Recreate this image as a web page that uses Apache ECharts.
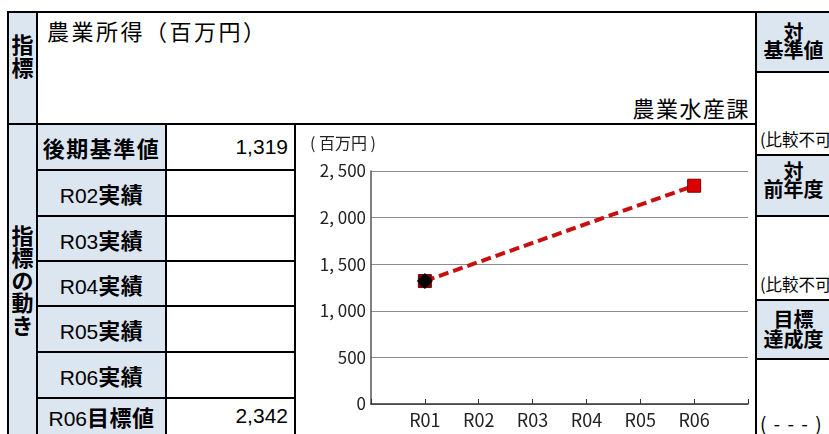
<!DOCTYPE html>
<html lang="ja">
<head>
<meta charset="utf-8">
<title>農業所得（百万円）</title>
<script src="https://cdn.jsdelivr.net/npm/echarts@6.0.0/dist/echarts.min.js"></script>
<style>
  html, body { margin: 0; padding: 0; background: #fff; }
  body { width: 829px; height: 434px; position: relative; overflow: hidden;
         font-family: "Noto Sans CJK JP", "Noto Sans", sans-serif; color: #000; }
  .fill { position: absolute; background: #dce6f1; }
  .ln { position: absolute; background: #000; }
  .txt { position: absolute; white-space: nowrap; }
  .head { font-weight: 700; text-align: center; }
  .lat { font-family: "Liberation Sans", Arial, sans-serif; font-weight: 400; font-size: 21px; }
  .cjkb { font-weight: 700; font-size: 22px; }
  #chart { position: absolute; left: 296px; top: 125px; width: 459px; height: 309px; }
</style>
</head>
<body>
<div id="sheet"></div>
<div id="chart"></div>
<script>
// ---- data ----
const categories = ['', 'R01', 'R02', 'R03', 'R04', 'R05', 'R06', ''];
const baseValue = 1319;      // 後期基準値
const targetValue = 2342;    // R06目標値
const baselineValues = [null, baseValue, null, null, null, null, null, null];
const targetValues = [null, baseValue, null, null, null, null, targetValue, null];
const yTickLabels = ['0', '500', '1, 000', '1, 500', '2, 000', '2, 500'];
const rowNames = [
  ['', '後期基準値'], ['R02', '実績'], ['R03', '実績'], ['R04', '実績'],
  ['R05', '実績'], ['R06', '実績'], ['R06', '目標値']
];
const rowValues = [baseValue, null, null, null, null, null, targetValue];

// ---- table frame ----
const sheet = document.getElementById('sheet');
function add(cls, x, y, w, h, html, style) {
  const d = document.createElement('div');
  d.className = cls;
  d.style.left = x + 'px'; d.style.top = y + 'px';
  if (w != null) d.style.width = w + 'px';
  if (h != null) d.style.height = h + 'px';
  if (html != null) d.innerHTML = html;
  if (style) Object.assign(d.style, style);
  sheet.appendChild(d);
  return d;
}

// header shading
add('fill', 8, 12, 29, 422);
add('fill', 37, 124, 129, 310);
add('fill', 756, 12, 73, 60);
add('fill', 756, 155, 73, 60);
add('fill', 756, 300, 73, 58);

// cell borders
add('ln', 7, 11, 822, 2);
add('ln', 7, 11, 2, 423);
add('ln', 36, 11, 2, 423);
add('ln', 7, 123, 749, 2);
add('ln', 165, 123, 2, 311);
add('ln', 294, 123, 2, 311);
add('ln', 755, 11, 2, 423);
const rowTops = [124, 170, 216, 261, 306, 352, 398];
rowTops.slice(1).forEach(y => add('ln', 36, y - 1, 259, 2));
[71, 154, 215, 299, 358].forEach(y => add('ln', 755, y, 74, 2));

// texts
add('txt head', 8, 32, 29, null, '指<br>標', { fontSize: '22px', lineHeight: '22.5px' });
add('txt head', 8, 223, 29, null, '指<br>標<br>の<br>動<br>き', { fontSize: '22px', lineHeight: '22.4px' });
add('txt', 47, 18, null, null, '農業所得（百万円）', { fontSize: '22px', lineHeight: '24px', letterSpacing: '2.5px' });
add('txt', 560, 95, 190, null, '農業水産課', { fontSize: '22px', lineHeight: '24px', letterSpacing: '1.5px', textAlign: 'right' });

add('txt head', 756, 23, 75, null, '対<br>基準値', { fontSize: '20px', lineHeight: '18px' });
add('txt', 760, 130, null, null, '(比較不可)', { fontSize: '16.5px', lineHeight: '18px' });
add('txt head', 756, 162, 75, null, '対<br>前年度', { fontSize: '20px', lineHeight: '18px' });
add('txt', 760, 275, null, null, '(比較不可)', { fontSize: '16.5px', lineHeight: '18px' });
add('txt head', 756, 309, 75, null, '目標<br>達成度', { fontSize: '20px', lineHeight: '19.5px' });
add('txt', 754, 412, 75, null, '( - - - )', { fontSize: '19px', lineHeight: '21px', textAlign: 'center', letterSpacing: '1.5px' });

rowNames.forEach((r, i) => {
  const top = rowTops[i];
  const h = i === rowNames.length - 1 ? 36 : 46;
  const inner = (r[0] ? '<span class="lat">' + r[0] + '</span>' : '') +
                '<span class="cjkb" style="letter-spacing:' + (r[0] ? '0.5px' : '1.5px') + '">' + r[1] + '</span>';
  add('txt', 37, top, 129, h, inner, { lineHeight: h + 'px', textAlign: 'center' });
  if (rowValues[i] != null) {
    add('txt lat', 167, top, 121, h, rowValues[i].toLocaleString('en-US'),
        { lineHeight: h + 'px', textAlign: 'right' });
  }
});

// ---- chart ----
const chart = echarts.init(document.getElementById('chart'), null, { renderer: 'canvas' });
const cjk = 'Noto Sans CJK JP';
chart.setOption({
  animation: false,
  title: {
    text: '( 百万円 )', left: 9, top: 5,
    textStyle: { fontSize: 16, fontWeight: 'normal', color: '#222', fontFamily: cjk }
  },
  grid: { left: 75, right: 7, top: 46, bottom: 30 },
  xAxis: {
    type: 'category', data: categories, boundaryGap: false,
    axisLine: { lineStyle: { color: '#333', width: 1.5 } },
    axisTick: { inside: true, length: 5, interval: 0, lineStyle: { color: '#333' } },
    axisLabel: { interval: 0, fontSize: 18, color: '#222', margin: 7, fontFamily: cjk },
    splitLine: { show: false }
  },
  yAxis: {
    type: 'value', min: 0, max: 2500, interval: 500,
    axisLine: { show: true, lineStyle: { color: '#555', width: 1.5 } },
    axisTick: { show: false },
    axisLabel: {
      fontSize: 17, color: '#222', margin: 5, fontFamily: cjk,
      formatter: v => yTickLabels[Math.round(v / 500)]
    },
    splitLine: { lineStyle: { color: '#8c8c8c', width: 1 } }
  },
  series: [
    {
      name: '目標', type: 'line', data: targetValues.map((v, i) =>
        i === 1 && v != null ? { value: v, itemStyle: { color: '#6a0a0a' } } : v),
      connectNulls: true,
      symbol: 'rect', symbolSize: 13,
      lineStyle: { color: '#c80f0f', width: 4, type: [10, 5] },
      itemStyle: { color: '#dd0000', borderColor: '#7a0000', borderWidth: 1 },
      z: 2
    },
    {
      name: '基準値', type: 'line', data: baselineValues,
      symbol: 'diamond', symbolSize: 16, showSymbol: true,
      lineStyle: { width: 0 },
      itemStyle: { color: '#000' },
      z: 3
    }
  ]
});
</script>
</body>
</html>
